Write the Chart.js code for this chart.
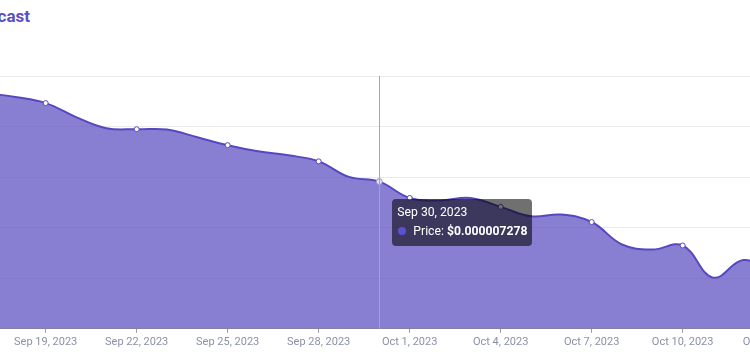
<!DOCTYPE html>
<html lang="en">
<head>
<meta charset="UTF-8">
<title>Price Forecast</title>
<script src="https://cdn.jsdelivr.net/npm/chart.js"></script>
<style>
  html, body { margin: 0; padding: 0; background: #fff; overflow: hidden; }
  body { width: 750px; height: 354px; position: relative; font-family: Roboto, "Noto Sans", sans-serif; }
  #title { position: absolute; top: 6px; right: 720px; white-space: nowrap; font-size: 17px; font-weight: 700; color: #5a4fc6; }
  #wrap { position: absolute; top: 0; left: -18px; width: 825px; height: 354px; }
  #tip {
    position: absolute; opacity: 0; pointer-events: none; white-space: nowrap;
    background: rgba(0, 0, 0, 0.56); color: #fff; border-radius: 4px;
    padding: 5px 5px 6px 5px; font-size: 12.2px; line-height: 17px;
  }
  #tip .t-title { margin-bottom: 2px; }
  #tip .dot { display: inline-block; width: 8px; height: 8px; border-radius: 50%; background: #5b52d2; margin: 0 7px 0 1px; vertical-align: -0.5px; }
  #tip .t-val { font-weight: 700; }
</style>
</head>
<body>
<div id="title">Price Forecast</div>
<div id="wrap">
  <canvas id="priceChart" width="825" height="354"></canvas>
  <div id="tip"><div class="t-title"></div><div><span class="dot"></span>Price: <span class="t-val"></span></div></div>
</div>

<script>
// dias do eixo x (um ponto por dia)
const dates = [
  'Sep 17, 2023', 'Sep 18, 2023', 'Sep 19, 2023', 'Sep 20, 2023', 'Sep 21, 2023',
  'Sep 22, 2023', 'Sep 23, 2023', 'Sep 24, 2023', 'Sep 25, 2023', 'Sep 26, 2023',
  'Sep 27, 2023', 'Sep 28, 2023', 'Sep 29, 2023', 'Sep 30, 2023', 'Oct 1, 2023',
  'Oct 2, 2023', 'Oct 3, 2023', 'Oct 4, 2023', 'Oct 5, 2023', 'Oct 6, 2023',
  'Oct 7, 2023', 'Oct 8, 2023', 'Oct 9, 2023', 'Oct 10, 2023', 'Oct 11, 2023',
  'Oct 12, 2023', 'Oct 13, 2023', 'Oct 14, 2023'
];

// preço previsto (USD)
const prices = [
  0.00001166, 0.00001146, 0.00001116, 0.00001047, 0.00000992,
  0.00000987, 0.00000985, 0.00000947, 0.00000908, 0.00000878,
  0.00000858, 0.00000828, 0.00000751, 0.000007278, 0.00000647,
  0.00000635, 0.00000647, 0.00000603, 0.00000556, 0.00000565,
  0.00000528, 0.00000417, 0.00000392, 0.00000412, 0.00000253,
  0.00000340, 0.00000288, 0.00000298
];

// ticks do eixo y (ficam fora da tela, so as linhas aparecem)
const yTicks = [0, 0.0000025, 0.000005, 0.0000075, 0.00001, 0.0000125];

const hoverDate = 'Sep 30, 2023'; // dia com tooltip aberto
const labelEvery = 3;             // um rótulo a cada 3 dias
const labelOffset = 2;            // primeiro rótulo = Sep 19

const lineColor = '#5548c0';

// linha vertical no ponto ativo
const crosshair = {
  id: 'crosshair',
  afterDatasetsDraw(chart) {
    const act = chart.getActiveElements();
    if (!act.length) return;
    const ctx = chart.ctx;
    const x = Math.round(act[0].element.x) + 0.5;
    ctx.save();
    ctx.strokeStyle = '#a6a6a6';
    ctx.lineWidth = 1;
    ctx.beginPath();
    ctx.moveTo(x, chart.chartArea.top);
    ctx.lineTo(x, chart.chartArea.bottom);
    ctx.stroke();
    ctx.restore();
  }
};

// tooltip em HTML para ter o valor em negrito
function drawTip(context) {
  const tip = document.getElementById('tip');
  const t = context.tooltip;
  if (t.opacity === 0 || !t.dataPoints || !t.dataPoints.length) { tip.style.opacity = 0; return; }
  const p = t.dataPoints[0];
  tip.querySelector('.t-title').textContent = p.label;
  tip.querySelector('.t-val').textContent = '$' + p.raw.toFixed(9);
  tip.style.left = (t.caretX + 13) + 'px';
  tip.style.top = (t.caretY + 17) + 'px';
  tip.style.opacity = 1;
}

const ctx = document.getElementById('priceChart').getContext('2d');
const chart = new Chart(ctx, {
  type: 'line',
  data: {
    labels: dates,
    datasets: [{
      label: 'Price',
      data: prices,
      borderColor: lineColor,
      backgroundColor: 'rgba(85, 72, 192, 0.7)',
      borderWidth: 2,
      fill: 'origin',
      tension: 0.4,
      pointRadius: c => (c.index % labelEvery === labelOffset ? 2.5 : 0),
      pointBackgroundColor: '#fff',
      pointBorderColor: lineColor,
      pointBorderWidth: 1,
      pointHoverRadius: 3,
      pointHoverBackgroundColor: '#e4e2f4',
      pointHoverBorderColor: '#9a95d0',
      pointHoverBorderWidth: 1
    }]
  },
  options: {
    responsive: false,
    animation: false,
    layout: { padding: { top: 76, bottom: 2, left: 0, right: 0 } },
    interaction: { mode: 'index', intersect: false },
    plugins: {
      legend: { display: false },
      tooltip: { enabled: false, external: drawTip }
    },
    scales: {
      x: {
        offset: false,
        border: { display: true, color: '#9b9b9b', width: 1 },
        grid: {
          drawOnChartArea: false,
          tickLength: 4,
          tickColor: c => (c.index % labelEvery === labelOffset ? '#9b9b9b' : 'rgba(0,0,0,0)')
        },
        ticks: {
          autoSkip: false,
          maxRotation: 0,
          padding: 3,
          color: '#8a90a8',
          font: { family: 'Roboto', size: 11 },
          callback: function (v, i) { return i % labelEvery === labelOffset ? this.getLabelForValue(v) : ''; }
        }
      },
      y: {
        min: yTicks[0],
        max: yTicks[yTicks.length - 1],
        afterBuildTicks: s => { s.ticks = yTicks.map(v => ({ value: v })); },
        border: { display: false },
        grid: { color: '#ebebeb', drawTicks: false },
        ticks: { display: false }
      }
    }
  },
  plugins: [crosshair]
});

// abre o tooltip no dia marcado
const active = [{ datasetIndex: 0, index: dates.indexOf(hoverDate) }];
chart.setActiveElements(active);
chart.tooltip.setActiveElements(active, { x: 0, y: 0 });
chart.update();
</script>
</body>
</html>
